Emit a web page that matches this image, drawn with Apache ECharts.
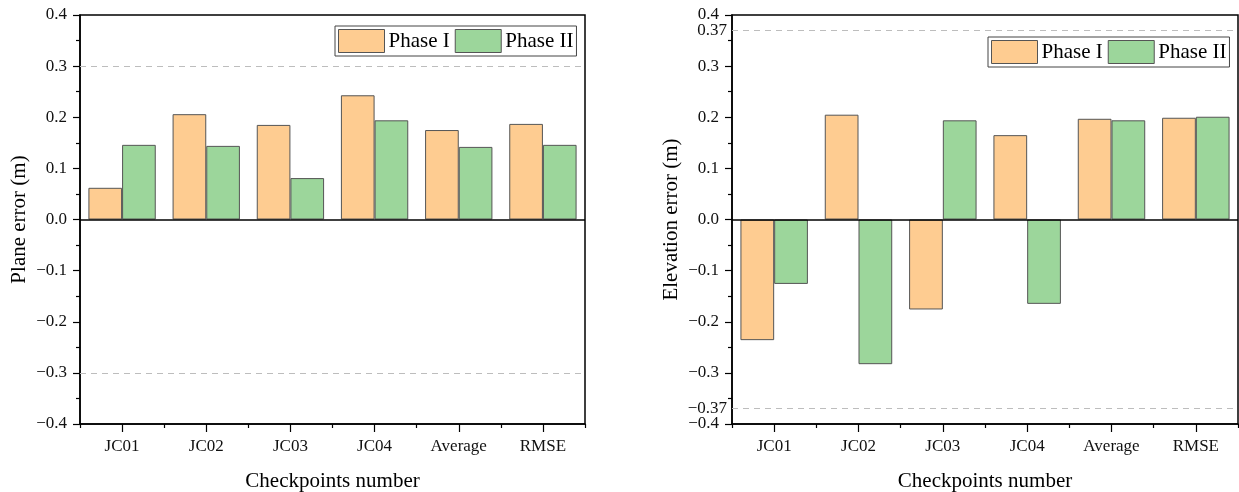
<!DOCTYPE html>
<html>
<head>
<meta charset="utf-8">
<script src="https://cdn.jsdelivr.net/npm/echarts@6/dist/echarts.min.js"></script>
<style>
html,body{margin:0;padding:0;background:#fff;}
#chart{width:1239px;height:492px;}
</style>
</head>
<body>
<div id="chart"></div>
<script>
const categories = ['JC01', 'JC02', 'JC03', 'JC04', 'Average', 'RMSE'];
const planePhase1 = [0.062, 0.206, 0.185, 0.243, 0.175, 0.187];
const planePhase2 = [0.146, 0.144, 0.081, 0.194, 0.142, 0.146];
const elevPhase1 = [-0.236, 0.205, -0.176, 0.165, 0.197, 0.199];
const elevPhase2 = [-0.126, -0.283, 0.194, -0.165, 0.194, 0.201];
const planeLimits = [0.3, -0.3];
const elevLimits = [0.37, -0.37];
const elevExtraLabels = [-0.37, 0.37];
const seriesNames = ['Phase I', 'Phase II'];

const FONT = "'Liberation Serif', 'Times New Roman', serif";
const ORANGE = '#FECC91';
const GREEN = '#9CD69B';
const EDGE = '#555555';

function fmt(v) {
  const a = Math.abs(v);
  const s = (Math.abs(a * 100 - Math.round(a * 10) * 10) > 1e-6) ? a.toFixed(2) : a.toFixed(1);
  return (v < -1e-9 ? '\u2212' : '') + s;
}

function catAxes(gridIndex, name) {
  return [
    {
      type: 'category', gridIndex, data: categories, position: 'bottom',
      name, nameLocation: 'middle', nameGap: 47,
      nameTextStyle: { fontFamily: FONT, fontSize: 21, color: '#000' },
      axisLine: { show: true, onZero: false, lineStyle: { color: '#000', width: 1.5 } },
      axisTick: { show: true, length: 4, lineStyle: { color: '#000', width: 1.2 } },
      axisLabel: { fontFamily: FONT, fontSize: 17, color: '#111', margin: 14 },
      splitLine: { show: false }
    },
    {
      type: 'category', gridIndex, data: categories, position: 'bottom',
      axisLine: { show: false, onZero: false },
      axisTick: { show: true, alignWithLabel: true, length: 8, lineStyle: { color: '#000', width: 1.2 } },
      axisLabel: { show: false },
      splitLine: { show: false }
    }
  ];
}

function valAxis(gridIndex, name, margin) {
  return {
    type: 'value', gridIndex, min: -0.4, max: 0.4, interval: 0.1, position: 'left',
    name, nameLocation: 'middle', nameGap: 50,
    nameTextStyle: { fontFamily: FONT, fontSize: 21, color: '#000' },
    axisLine: { show: true, onZero: false, lineStyle: { color: '#000', width: 1.5 } },
    axisTick: { show: true, length: 7, lineStyle: { color: '#000', width: 1.2 } },
    minorTick: { show: true, splitNumber: 2, length: 4, lineStyle: { color: '#000', width: 1.2 } },
    axisLabel: {
      fontFamily: FONT, fontSize: 17, color: '#111', margin, formatter: fmt,
      hideOverlap: false, showMinLabel: true, showMaxLabel: true
    },
    splitLine: { show: false },
    minorSplitLine: { show: false }
  };
}

function extraLabelAxis(gridIndex, values, margin) {
  return {
    type: 'value', gridIndex, min: -0.4, max: 0.4, position: 'left',
    axisLine: { show: false, onZero: false },
    axisTick: { show: false },
    minorTick: { show: false },
    axisLabel: {
      fontFamily: FONT, fontSize: 17, color: '#111', margin, formatter: fmt,
      customValues: values, hideOverlap: false
    },
    splitLine: { show: false }
  };
}

function refLines(limits) {
  const d = limits.map(v => ({ yAxis: v, lineStyle: { color: '#bdbdbd', type: [6, 5], width: 1.2 } }));
  d.push({ yAxis: 0, lineStyle: { color: '#000', type: 'solid', width: 1.5 } });
  return { silent: true, symbol: ['none', 'none'], label: { show: false }, data: d, z: 5 };
}

function bar(name, data, color, xi, yi, ml) {
  const s = {
    type: 'bar', name, data, xAxisIndex: xi, yAxisIndex: yi,
    barCategoryGap: '20%', barGap: '0%',
    itemStyle: { color, borderColor: EDGE, borderWidth: 1 },
    emphasis: { disabled: true }
  };
  if (ml) s.markLine = ml;
  return s;
}

function legend(left, top) {
  return {
    left, top, orient: 'horizontal', data: seriesNames,
    icon: 'rect', itemWidth: 46, itemHeight: 23, itemGap: 5,
    padding: 3, borderColor: '#444', borderWidth: 1, backgroundColor: '#fff',
    selectedMode: false,
    itemStyle: { borderColor: EDGE, borderWidth: 1 },
    textStyle: { fontFamily: FONT, fontSize: 21, color: '#000', padding: [0, 1, 0, -1] }
  };
}

const gridBase = { top: 15, bottom: 68, show: true, borderColor: '#000', borderWidth: 1.5, backgroundColor: 'transparent', containLabel: false, outerBoundsMode: 'none' };

const chart = echarts.init(document.getElementById('chart'), null, { renderer: 'canvas' });
chart.setOption({
  backgroundColor: '#fff',
  animation: false,
  color: [ORANGE, GREEN],
  grid: [
    Object.assign({ left: 80, right: 654 }, gridBase),
    Object.assign({ left: 732, right: 1 }, gridBase)
  ],
  legend: [legend(335, 26), legend(988, 37)],
  xAxis: [...catAxes(0, 'Checkpoints number'), ...catAxes(1, 'Checkpoints number')],
  yAxis: [
    valAxis(0, 'Plane error (m)', 13),
    valAxis(1, 'Elevation error (m)', 13),
    extraLabelAxis(1, elevExtraLabels, 5)
  ],
  series: [
    bar(seriesNames[0], planePhase1, ORANGE, 0, 0, refLines(planeLimits)),
    bar(seriesNames[1], planePhase2, GREEN, 0, 0),
    bar(seriesNames[0], elevPhase1, ORANGE, 2, 1, refLines(elevLimits)),
    bar(seriesNames[1], elevPhase2, GREEN, 2, 1)
  ]
});
</script>
</body>
</html>
